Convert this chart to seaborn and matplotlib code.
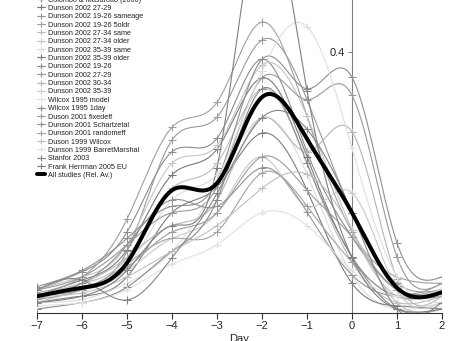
import numpy as np
import pandas as pd
import matplotlib
matplotlib.use("Agg")
import matplotlib.pyplot as plt
from matplotlib.lines import Line2D
import seaborn as sns

sns.set_style("white")
plt.rcParams['font.family'] = ['Liberation Sans', 'DejaVu Sans']

days = [-7, -6, -5, -4, -3, -2, -1, 0, 1, 2]

study_labels = [
    "Colombo & Masarotto (2000)",
    "Dunson 2002 27-29",
    "Dunson 2002 19-26 sameage",
    "Dunson 2002 19-26 5oldr",
    "Dunson 2002 27-34 same",
    "Dunson 2002 27-34 older",
    "Dunson 2002 35-39 same",
    "Dunson 2002 35-39 older",
    "Dunson 2002 19-26",
    "Dunson 2002 27-29",
    "Dunson 2002 30-34",
    "Dunson 2002 35-39",
    "Wilcox 1995 model",
    "Wilcox 1995 1day",
    "Duson 2001 fixedeff",
    "Dunson 2001 Schartzetal",
    "Dunson 2001 randomeff",
    "Duson 1999 Wilcox",
    "Dunson 1999 BarretMarshal",
    "Stanfor 2003",
    "Frank Herrman 2005 EU",
]

study_values = [
    [0.030, 0.058, 0.120, 0.245, 0.266, 0.389, 0.245, 0.112, 0.030, 0.030],
    [0.020, 0.045, 0.092, 0.209, 0.249, 0.360, 0.237, 0.081, 0.020, 0.020],
    [0.015, 0.035, 0.090, 0.263, 0.299, 0.419, 0.326, 0.150, 0.040, 0.030],
    [0.025, 0.050, 0.140, 0.283, 0.322, 0.447, 0.300, 0.120, 0.050, 0.040],
    [0.020, 0.040, 0.080, 0.188, 0.227, 0.343, 0.227, 0.073, 0.010, 0.020],
    [0.030, 0.050, 0.100, 0.227, 0.255, 0.380, 0.300, 0.123, 0.020, 0.030],
    [0.010, 0.030, 0.064, 0.170, 0.209, 0.298, 0.210, 0.053, 0.000, 0.010],
    [0.010, 0.020, 0.050, 0.150, 0.190, 0.274, 0.185, 0.040, 0.005, 0.000],
    [0.035, 0.060, 0.110, 0.160, 0.200, 0.389, 0.343, 0.361, 0.103, 0.050],
    [0.030, 0.050, 0.100, 0.150, 0.190, 0.360, 0.326, 0.333, 0.081, 0.040],
    [0.020, 0.040, 0.080, 0.130, 0.170, 0.298, 0.245, 0.276, 0.047, 0.020],
    [0.010, 0.030, 0.060, 0.110, 0.150, 0.237, 0.160, 0.181, 0.030, 0.010],
    [0.010, 0.015, 0.040, 0.090, 0.200, 0.370, 0.440, 0.250, 0.050, 0.010],
    [0.000, 0.010, 0.034, 0.090, 0.170, 0.343, 0.227, 0.081, 0.000, 0.000],
    [0.020, 0.030, 0.064, 0.120, 0.150, 0.237, 0.185, 0.112, 0.030, 0.040],
    [0.020, 0.040, 0.100, 0.170, 0.160, 0.220, 0.151, 0.053, 0.020, 0.030],
    [0.015, 0.030, 0.070, 0.110, 0.120, 0.212, 0.160, 0.073, 0.020, 0.030],
    [0.020, 0.025, 0.050, 0.090, 0.130, 0.188, 0.210, 0.123, 0.010, 0.000],
    [0.005, 0.010, 0.030, 0.070, 0.100, 0.150, 0.130, 0.060, 0.020, 0.030],
    [0.030, 0.045, 0.014, 0.080, 0.180, 0.298, 0.280, 0.150, 0.000, 0.010],
    [0.010, 0.020, 0.060, 0.130, 0.220, 0.620, 0.340, 0.080, 0.000, 0.000],
]

study_colors = [
    "#8c8c8c", "#7a7a7a", "#9a9a9a", "#a0a0a0", "#bdbdbd", "#c4c4c4",
    "#dcdcdc", "#7d7d7d", "#8f8f8f", "#999999", "#b5b5b5", "#c8c8c8",
    "#dedede", "#8a8a8a", "#9c9c9c", "#939393", "#a3a3a3", "#c0c0c0",
    "#e0e0e0", "#858585", "#808080",
]

all_label = "All studies (Rel. Av.)"
all_values = [0.020, 0.033, 0.072, 0.185, 0.196, 0.330, 0.265, 0.150, 0.033, 0.026]


def natural_spline(x, y, xs):
    x = np.asarray(x, float)
    y = np.asarray(y, float)
    n = len(x)
    h = np.diff(x)
    A = np.zeros((n, n))
    b = np.zeros(n)
    A[0, 0] = 1.0
    A[-1, -1] = 1.0
    for i in range(1, n - 1):
        A[i, i - 1] = h[i - 1]
        A[i, i] = 2 * (h[i - 1] + h[i])
        A[i, i + 1] = h[i]
        b[i] = 6 * ((y[i + 1] - y[i]) / h[i] - (y[i] - y[i - 1]) / h[i - 1])
    M = np.linalg.solve(A, b)
    idx = np.clip(np.searchsorted(x, xs) - 1, 0, n - 2)
    x0, x1 = x[idx], x[idx + 1]
    hh = x1 - x0
    t0 = x1 - xs
    t1 = xs - x0
    return (M[idx] * t0 ** 3 / (6 * hh) + M[idx + 1] * t1 ** 3 / (6 * hh)
            + (y[idx] / hh - M[idx] * hh / 6) * t0
            + (y[idx + 1] / hh - M[idx + 1] * hh / 6) * t1)


xs = np.linspace(days[0], days[-1], 400)
smooth_rows = []
point_rows = []
for i, vals in enumerate(study_values):
    sid = f"s{i:02d}"
    ys = natural_spline(days, vals, xs)
    smooth_rows.append(pd.DataFrame({"day": xs, "value": ys, "sid": sid}))
    point_rows.append(pd.DataFrame({"day": days, "value": vals, "sid": sid}))
smooth_df = pd.concat(smooth_rows, ignore_index=True)
point_df = pd.concat(point_rows, ignore_index=True)
palette = {f"s{i:02d}": c for i, c in enumerate(study_colors)}
all_df = pd.DataFrame({"day": xs, "value": natural_spline(days, all_values, xs)})

W, H = 454, 341
fig = plt.figure(figsize=(W / 100, H / 100), dpi=100)
ax = fig.add_axes([37 / W, (H - 313) / H, (442 - 37) / W, 313 / H])

sns.lineplot(data=smooth_df, x="day", y="value", hue="sid", palette=palette,
             estimator=None, sort=False, linewidth=0.8, legend=False, ax=ax)
sns.scatterplot(data=point_df, x="day", y="value", hue="sid", palette=palette,
                marker="+", s=28, linewidth=0.75, legend=False, ax=ax, zorder=3)
sns.lineplot(data=all_df, x="day", y="value", color="black", linewidth=2.9,
             estimator=None, sort=False, ax=ax, zorder=5)

ax.set_xlim(-7, 2)
ax.set_ylim(-4 / 642, 309 / 642)
ax.set_xticks(range(-7, 3))
ax.set_yticks([0.4])
ax.set_yticklabels(["0.4"])
for s in ["top", "right"]:
    ax.spines[s].set_visible(False)
ax.spines["left"].set_position(("data", 0))
ax.spines["left"].set_color("#808080")
ax.spines["left"].set_linewidth(0.8)
ax.spines["bottom"].set_color("#333333")
ax.spines["bottom"].set_linewidth(0.8)
ax.tick_params(axis="x", direction="out", length=4, width=0.8, color="#333333",
               labelsize=8, pad=2, bottom=True)
ax.tick_params(axis="y", direction="out", length=3, width=0.8, color="#808080",
               labelsize=8, pad=2, left=True)
ax.set_xlabel("Day", fontsize=8, labelpad=2)
ax.set_ylabel("")
ax.grid(False)

handles = [Line2D([0], [0], color=c, lw=0.8, marker="+", markersize=5,
                  markeredgewidth=0.8) for c in study_colors]
handles.append(Line2D([0], [0], color="black", lw=2.9))
labels = study_labels + [all_label]
leg = ax.legend(handles, labels, loc="lower left",
                bbox_to_anchor=(37 / W, (H - 179) / H),
                bbox_transform=fig.transFigure, frameon=False, fontsize=5.2,
                handlelength=1.1, handletextpad=0.45, labelspacing=0.18,
                borderpad=0, borderaxespad=0)
for t in leg.get_texts():
    t.set_color("#222222")

fig.savefig("out.png", dpi=100)
